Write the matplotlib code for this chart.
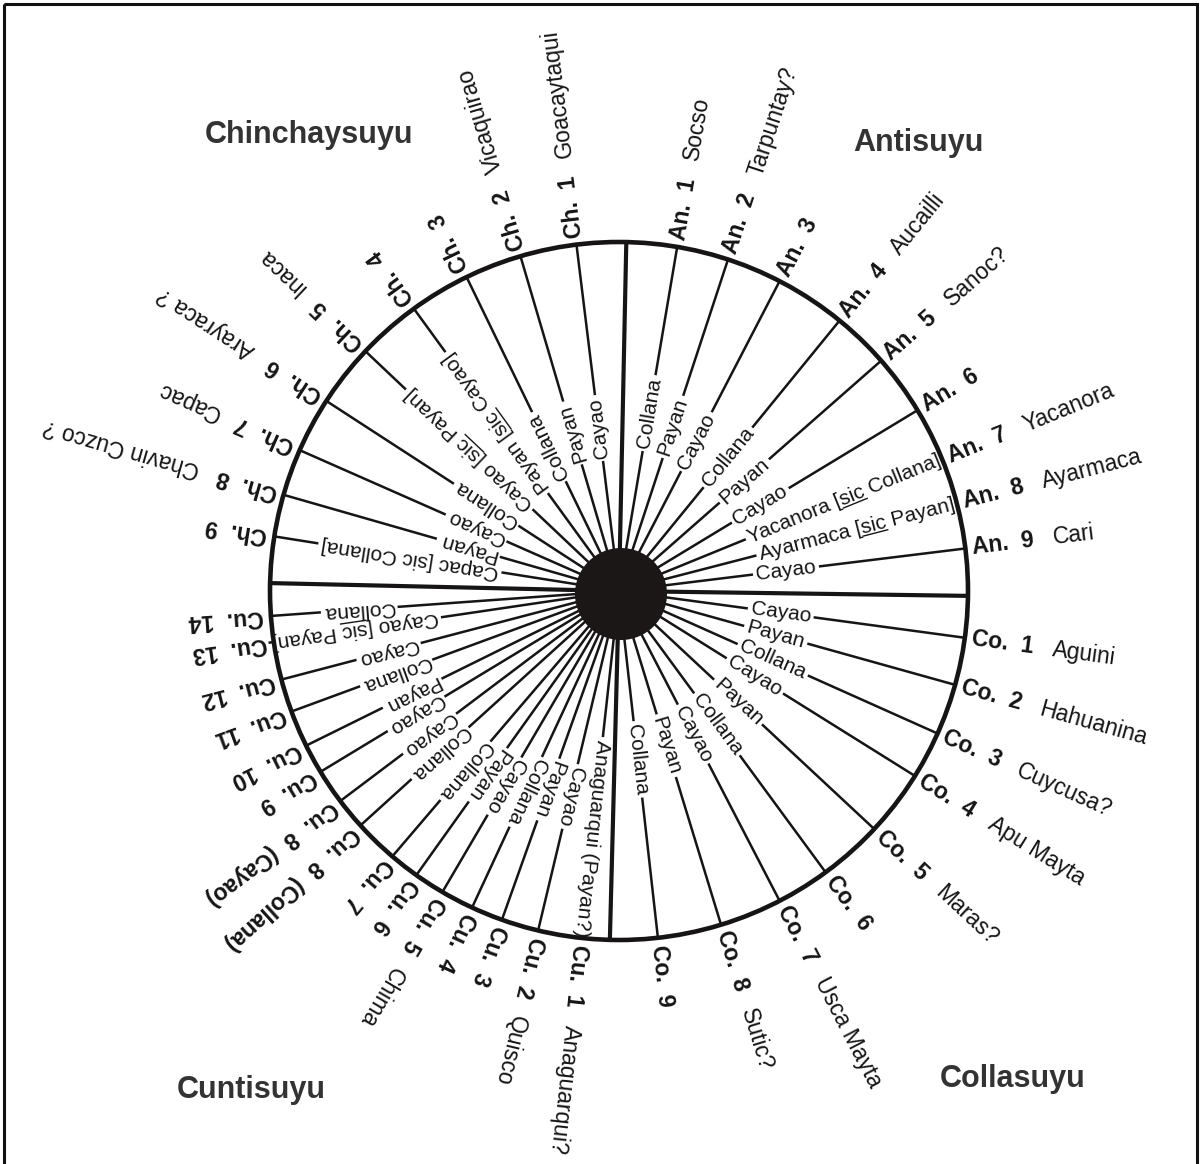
import numpy as np
import matplotlib.pyplot as plt
from matplotlib.patches import Circle, Rectangle
from matplotlib.font_manager import FontProperties

# quarter (suyu) dividing lines, compass bearing in degrees (clockwise from top)
quarter_bearings = [1.2, 90.8, 181.5, 271.3]

# Antisuyu
anti_codes = ["An.  1", "An.  2", "An.  3", "An.  4", "An.  5", "An.  6", "An.  7", "An.  8", "An.  9"]
anti_names = ["Socso", "Tarpuntay?", "", "Aucailli", "Sanoc?", "", "Yacanora", "Ayarmaca", "Cari"]
anti_ranks = ["Collana", "Payan", "Cayao", "Collana", "Payan", "Cayao",
              "Yacanora [sic Collana]", "Ayarmaca [sic Payan]", "Cayao"]
anti_bearings = [9.6, 18.2, 27.4, 39.2, 48.7, 58.8, 67.8, 75.5, 83.0]

# Chinchaysuyu
chin_codes = ["Ch.  1", "Ch.  2", "Ch.  3", "Ch.  4", "Ch.  5", "Ch.  6", "Ch.  7", "Ch.  8", "Ch.  9"]
chin_names = ["Goacaytaqui", "Vicaquirao", "", "", "Inaca", "Arayraca ?", "Capac", "Chavin Cuzco ?", ""]
chin_ranks = ["Cayao", "Payan", "Collana", "Payan [sic Cayao]", "Cayao [sic Payan]",
              "Collana", "Cayao", "Payan", "Capac [sic Collana]"]
chin_bearings = [353.0, 343.6, 334.1, 324.0, 313.4, 303.0, 293.8, 286.0, 279.0]

# Collasuyu
colla_codes = ["Co.  1", "Co.  2", "Co.  3", "Co.  4", "Co.  5", "Co.  6", "Co.  7", "Co.  8", "Co.  9"]
colla_names = ["Aguini", "Hahuanina", "Cuycusa?", "Apu Mayta", "Maras?", "", "Usca Mayta", "Sutic?", ""]
colla_ranks = ["Cayao", "Payan", "Collana", "Cayao", "Payan", "Collana", "Cayao", "Payan", "Collana"]
colla_bearings = [97.7, 105.6, 114.1, 122.0, 133.0, 143.7, 152.6, 163.0, 173.6]

# Cuntisuyu
cunti_codes = ["Cu.  1", "Cu.  2", "Cu.  3", "Cu.  4", "Cu.  5", "Cu.  6", "Cu.  7",
               "Cu.  8  (Collana)", "Cu.  8  (Cayao)", "Cu.  9", "Cu.  10", "Cu.  11",
               "Cu.  12", "Cu.  13", "Cu.  14"]
cunti_names = ["Anaguarqui?", "Quisco", "", "", "Chima", "", "", "", "", "", "", "", "", "", ""]
cunti_ranks = ["Anaguarqui (Payan?)", "Cayao", "Payan", "Collana", "Cayao", "Payan", "Collana",
               "Collana", "Cayao", "Cayao", "Payan", "Collana", "Cayao", "Cayao [sic Payan]", "Collana"]
cunti_bearings = [186.3, 193.4, 199.6, 204.9, 210.4, 215.5, 220.5, 227.8, 233.0,
                  238.8, 243.7, 249.8, 255.3, 261.6, 265.9]

suyu_names = ["Chinchaysuyu", "Antisuyu", "Cuntisuyu", "Collasuyu"]

# layout: where each inner rank label starts (pixels from centre)
anti_r0 = [145, 143, 138, 137, 137, 135, 140, 145, 138]
chin_r0 = [134, 135, 125, 124, 122, 123, 126, 127, 122]
colla_r0 = [133, 133, 133, 130, 133, 130, 131, 132, 134]
cunti_r0 = [150, 181, 181, 186, 196, 196, 201, 206, 207, 207, 201, 202, 208, 183, 225]
suyu_xy = [(309, 135), (918, 143), (251, 1090), (1013, 1079)]

W, H = 1201, 1164
CX, CY, R, R_DISC = 619, 591, 349, 46
INK = "#161414"

fig = plt.figure(figsize=(W / 100, H / 100), dpi=100)
ax = fig.add_axes([0, 0, 1, 1])
ax.set_xlim(0, W)
ax.set_ylim(H, 0)
ax.set_aspect("auto")
ax.axis("off")
renderer = fig.canvas.get_renderer()

rank_font = FontProperties(family="Liberation Sans", size=15)
code_font = FontProperties(family="Liberation Sans", size=16.5, weight="bold")
name_font = FontProperties(family="Liberation Sans", size=16.5)


def pos(b, r):
    a = np.radians(b)
    return CX + r * np.sin(a), CY - r * np.cos(a)


def seg(b, r1, r2, lw=1.8):
    x1, y1 = pos(b, r1)
    x2, y2 = pos(b, r2)
    ax.plot([x1, x2], [y1, y2], color=INK, lw=lw, solid_capstyle="butt")


def radial_text(b, r, s, prop, color=INK):
    x, y = pos(b, r)
    ax.text(x, y, s, rotation=90 - b, rotation_mode="anchor", ha="left", va="center",
            fontproperties=prop, color=color)


def text_w(s, prop):
    w, h, d = renderer.get_text_width_height_descent(s, prop, ismath=False)
    return w, h, d


def ceque(b, rank, r0, code, name):
    w, h, d = text_w(rank, rank_font)
    seg(b, R_DISC - 5, r0 - 3)
    seg(b, r0 + w + 3, R)
    radial_text(b, r0, rank, rank_font)
    # underline the "sic"
    if "sic" in rank and not rank.startswith("Capac"):
        i = rank.index("sic")
        wp = text_w(rank[:i], rank_font)[0]
        ws = text_w("sic", rank_font)[0]
        th = np.radians(90 - b)
        off = h / 2 - d + 2.5
        ox, oy = off * np.sin(th), off * np.cos(th)
        xa, ya = pos(b, r0 + wp)
        xb, yb = pos(b, r0 + wp + ws)
        ax.plot([xa + ox, xb + ox], [ya + oy, yb + oy], color=INK, lw=1.0)
    radial_text(b, R + 7, code, code_font)
    if name:
        radial_text(b, 437, name, name_font)


for bs, rs, r0s, cs, ns in [
    (anti_bearings, anti_ranks, anti_r0, anti_codes, anti_names),
    (chin_bearings, chin_ranks, chin_r0, chin_codes, chin_names),
    (colla_bearings, colla_ranks, colla_r0, colla_codes, colla_names),
    (cunti_bearings, cunti_ranks, cunti_r0, cunti_codes, cunti_names),
]:
    for b, rk, r0, c, n in zip(bs, rs, r0s, cs, ns):
        ceque(b, rk, r0, c, n)

for b in quarter_bearings:
    seg(b, 0, R, lw=3.0)

ax.add_patch(Circle((CX, CY), R, fill=False, ec=INK, lw=3.3))
ax.add_patch(Circle((CX + 2, CY + 3), R_DISC, fc="#1c1717", ec="none", zorder=5))

for s, (x, y) in zip(suyu_names, suyu_xy):
    ax.text(x, y, s, ha="center", va="center", fontsize=22, fontweight="bold",
            family="Liberation Sans", color="#333333")

ax.add_patch(Rectangle((4, 4), W - 8, H + 20, fill=False, ec="#111111", lw=2.2))

fig.savefig("out.png", dpi=100)
